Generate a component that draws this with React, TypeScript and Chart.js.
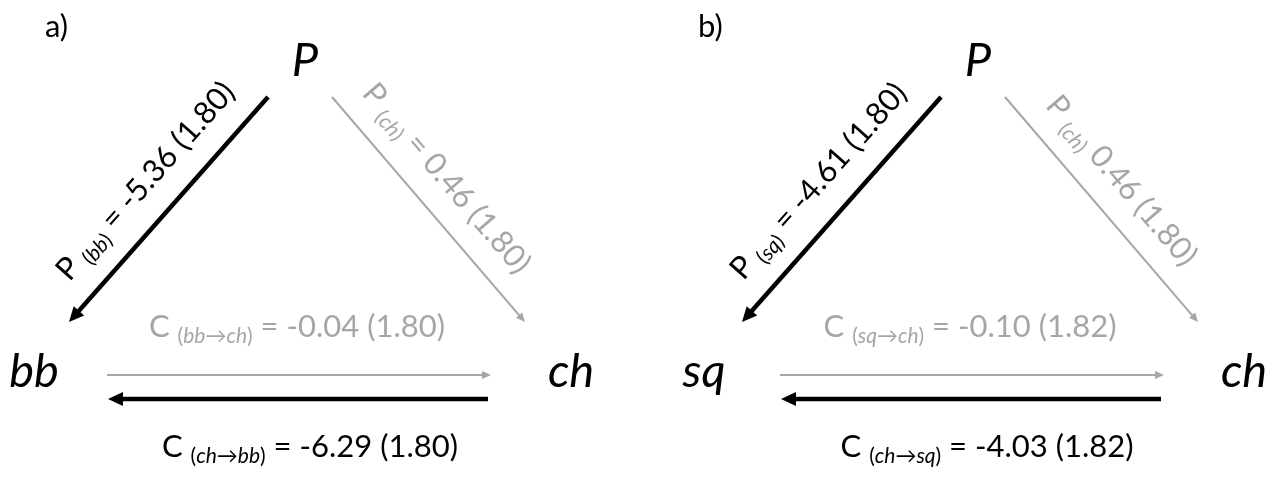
import React, { useEffect, useRef } from 'react';
import { Chart, registerables } from 'chart.js';

Chart.register(...registerables);

// ---- data ----
const panelLabels = ['a)', 'b)'];
const topNode = 'P';
const leftNodes = ['bb', 'sq'];
const rightNode = 'ch';
const pToLeft = [-5.36, -4.61];
const pToLeftSE = [1.8, 1.8];
const pToRight = [0.46, 0.46];
const pToRightSE = [1.8, 1.8];
const leftToRight = [-0.04, -0.1];
const leftToRightSE = [1.8, 1.82];
const rightToLeft = [-6.29, -4.03];
const rightToLeftSE = [1.8, 1.82];
const pToRightShowsEquals = [true, false];

// ---- layout / style ----
const W = 1282;
const H = 483;
const PANEL_X = [0, 673];
const LETTER_X = [45, 698];
const FONT = 'Lato, "Open Sans", sans-serif';
const BLACK = '#000000';
const GREY = '#a6a6a6';
const MAIN_SIZE = 31;
const SUB_SIZE = 21;
const NODE_SIZE = 47;

type Seg = { t: string; size: number; italic: boolean; dy: number };

const main = (t: string): Seg => ({ t, size: MAIN_SIZE, italic: false, dy: 0 });
const sub = (t: string, italic: boolean): Seg => ({ t, size: SUB_SIZE, italic, dy: 6 });

function pathLabel(letter: string, parts: string[], coef: number, se: number, equals = true): Seg[] {
  const segs: Seg[] = [main(letter + ' '), sub('(', false)];
  parts.forEach((p, i) => {
    if (i > 0) segs.push(sub('\u2192', false));
    segs.push(sub(p, true));
  });
  segs.push(sub(')', false));
  segs.push(main((equals ? ' = ' : ' ') + coef.toFixed(2) + ' (' + se.toFixed(2) + ')'));
  return segs;
}

const isSig = (c: number, s: number) => Math.abs(c / s) > 1.96;

function buildArrows(p: number) {
  const ox = PANEL_X[p];
  const left = leftNodes[p];
  return [
    {
      from: [268 + ox, 97], to: [69 + ox, 322], coef: pToLeft[p], se: pToLeftSE[p],
      label: pathLabel('P', [left], pToLeft[p], pToLeftSE[p]), kind: 'diag', t: 0.48, off: 26, flip: true,
    },
    {
      from: [332 + ox, 97], to: [525 + ox, 322], coef: pToRight[p], se: pToRightSE[p],
      label: pathLabel('P', [rightNode], pToRight[p], pToRightSE[p], pToRightShowsEquals[p]),
      kind: 'diag', t: p === 0 ? 0.46 : 0.47, off: 24, flip: false,
    },
    {
      from: [107 + ox, 375], to: [491 + ox, 375], coef: leftToRight[p], se: leftToRightSE[p],
      label: pathLabel('C', [left, rightNode], leftToRight[p], leftToRightSE[p]), kind: 'top',
      lx: 297 + ox, ly: 337,
    },
    {
      from: [488 + ox, 399], to: [108 + ox, 399], coef: rightToLeft[p], se: rightToLeftSE[p],
      label: pathLabel('C', [rightNode, left], rightToLeft[p], rightToLeftSE[p]), kind: 'bottom',
      lx: 310 + ox + (p === 1 ? 4 : 0), ly: 457,
    },
  ];
}

const allArrows = [0, 1].flatMap((p) => buildArrows(p));

function drawRich(ctx: CanvasRenderingContext2D, segs: Seg[], x: number, y: number, color: string) {
  let total = 0;
  const widths = segs.map((s) => {
    ctx.font = `${s.italic ? 'italic ' : ''}${s.size}px ${FONT}`;
    const w = ctx.measureText(s.t).width;
    total += w;
    return w;
  });
  let cx = x - total / 2;
  ctx.fillStyle = color;
  ctx.textAlign = 'left';
  ctx.textBaseline = 'alphabetic';
  segs.forEach((s, i) => {
    ctx.font = `${s.italic ? 'italic ' : ''}${s.size}px ${FONT}`;
    ctx.fillText(s.t, cx, y + s.dy);
    cx += widths[i];
  });
}

const arrowPlugin = {
  id: 'arrowHeads',
  afterDatasetsDraw(chart: any) {
    const ctx: CanvasRenderingContext2D = chart.ctx;
    const xs = chart.scales.x;
    const ys = chart.scales.y;
    chart.data.datasets.forEach((ds: any, i: number) => {
      const meta = chart.getDatasetMeta(i);
      if (!meta || !meta.data || meta.data.length < 2) return;
      const p0 = meta.data[0];
      const tx = xs.getPixelForValue(ds.tip[0]);
      const ty = ys.getPixelForValue(ds.tip[1]);
      const dx = tx - p0.x;
      const dy = ty - p0.y;
      const L = Math.hypot(dx, dy);
      const ux = dx / L;
      const uy = dy / L;
      const nx = -uy;
      const ny = ux;
      const bx = tx - ux * ds.headLen;
      const by = ty - uy * ds.headLen;
      ctx.save();
      ctx.fillStyle = ds.borderColor;
      ctx.beginPath();
      ctx.moveTo(tx, ty);
      ctx.lineTo(bx + (nx * ds.headW) / 2, by + (ny * ds.headW) / 2);
      ctx.lineTo(bx - (nx * ds.headW) / 2, by - (ny * ds.headW) / 2);
      ctx.closePath();
      ctx.fill();
      ctx.restore();
    });
  },
};

const labelPlugin = {
  id: 'diagramLabels',
  afterDraw(chart: any) {
    const ctx: CanvasRenderingContext2D = chart.ctx;
    const xs = chart.scales.x;
    const ys = chart.scales.y;
    const px = (v: number) => xs.getPixelForValue(v);
    const py = (v: number) => ys.getPixelForValue(v);
    ctx.save();
    // panel letters
    panelLabels.forEach((lab, p) => {
      ctx.font = `31px ${FONT}`;
      ctx.fillStyle = BLACK;
      ctx.textAlign = 'left';
      ctx.textBaseline = 'alphabetic';
      ctx.fillText(lab, px(LETTER_X[p]), py(37));
    });
    // nodes
    [0, 1].forEach((p) => {
      const ox = PANEL_X[p];
      ctx.font = `italic ${NODE_SIZE}px ${FONT}`;
      ctx.fillStyle = BLACK;
      ctx.textAlign = 'center';
      ctx.textBaseline = 'alphabetic';
      ctx.fillText(topNode, px(305 + ox), py(76));
      ctx.fillText(leftNodes[p], px(34 + ox - (p === 1 ? 3 : 0)), py(387));
      ctx.fillText(rightNode, px(574 + ox - 3), py(387));
    });
    // path labels
    allArrows.forEach((a: any) => {
      const color = isSig(a.coef, a.se) ? BLACK : GREY;
      if (a.kind === 'diag') {
        const ax = px(a.from[0]);
        const ay = py(a.from[1]);
        const bx = px(a.to[0]);
        const by = py(a.to[1]);
        const cx = ax + (bx - ax) * a.t;
        const cy = ay + (by - ay) * a.t;
        const ang = a.flip ? Math.atan2(ay - by, ax - bx) : Math.atan2(by - ay, bx - ax);
        ctx.save();
        ctx.translate(cx, cy);
        ctx.rotate(ang);
        drawRich(ctx, a.label, 0, -a.off, color);
        ctx.restore();
      } else {
        drawRich(ctx, a.label, px(a.lx), py(a.ly), color);
      }
    });
    ctx.restore();
  },
};

export default function App() {
  const ref = useRef<HTMLCanvasElement | null>(null);
  useEffect(() => {
    if (!ref.current) return;
    const datasets = allArrows.map((a: any) => {
      const sig = isSig(a.coef, a.se);
      const headLen = sig ? 15 : 9;
      const headW = sig ? 14 : 8;
      const dx = a.to[0] - a.from[0];
      const dy = a.to[1] - a.from[1];
      const L = Math.hypot(dx, dy);
      const cut = headLen * 0.8;
      return {
        data: [
          { x: a.from[0], y: a.from[1] },
          { x: a.to[0] - (dx / L) * cut, y: a.to[1] - (dy / L) * cut },
        ],
        showLine: true,
        borderColor: sig ? BLACK : GREY,
        backgroundColor: sig ? BLACK : GREY,
        borderWidth: sig ? 4.5 : 2,
        borderCapStyle: 'butt',
        pointRadius: 0,
        tension: 0,
        tip: a.to,
        headLen,
        headW,
      };
    });
    const chart = new Chart(ref.current, {
      type: 'scatter',
      data: { datasets } as any,
      options: {
        responsive: false,
        animation: false,
        events: [],
        layout: { padding: 0 },
        plugins: { legend: { display: false }, tooltip: { enabled: false } },
        scales: {
          x: { type: 'linear', display: false, min: 0, max: W },
          y: { type: 'linear', display: false, min: 0, max: H, reverse: true },
        },
      },
      plugins: [arrowPlugin, labelPlugin],
    } as any);
    return () => chart.destroy();
  }, []);
  return (
    <div style={{ position: 'fixed', left: 0, top: 0, width: W, height: H, background: '#fff' }}>
      <canvas ref={ref} width={W} height={H} style={{ display: 'block', width: W, height: H }} />
    </div>
  );
}
